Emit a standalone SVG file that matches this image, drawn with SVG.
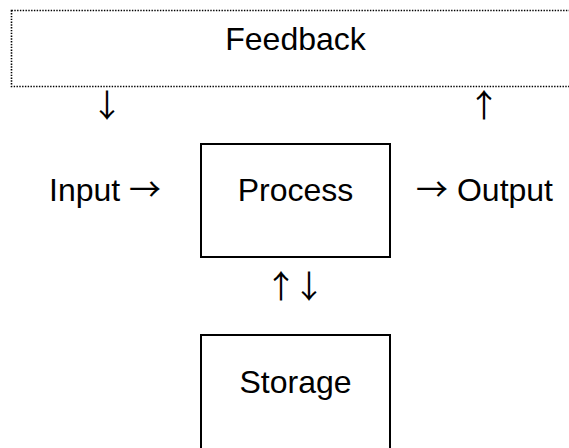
<svg xmlns="http://www.w3.org/2000/svg" width="569" height="448" viewBox="0 0 569 448">
  <style>
    text { font-family: "Liberation Sans", Arial, sans-serif; font-size: 32px; fill: #000; }
    .c { text-anchor: middle; }
    .arw { font-family: "Noto Sans CJK JP", "Liberation Sans", sans-serif; }
    .box { fill: #fff; stroke: #000; stroke-width: 2; }
    .dotted { fill: #fff; stroke: #000; stroke-width: 1.6; stroke-dasharray: 1.4 1.4; }
  </style>
  <rect width="569" height="448" fill="#fff"/>

  <!-- feedback loop band across the top -->
  <g id="feedback">
    <rect class="dotted" x="11.5" y="10.5" width="570" height="76"/>
    <text class="c" x="295.5" y="50">Feedback</text>
  </g>

  <g id="process">
    <rect class="box" x="201" y="144" width="189" height="113"/>
    <text class="c" x="295.5" y="201">Process</text>
  </g>

  <g id="storage">
    <rect class="box" x="201" y="335" width="189" height="130"/>
    <text class="c" x="295.5" y="393">Storage</text>
  </g>

  <g id="input">
    <text x="49" y="201">Input <tspan class="arw">→</tspan></text>
  </g>

  <g id="output">
    <text x="553" y="201" text-anchor="end"><tspan class="arw">→</tspan> Output</text>
  </g>

  <!-- flow arrows set as glyphs -->
  <g id="connectors">
    <text class="c arw" x="107" y="117">↓</text>
    <text class="c arw" x="484" y="117">↑</text>
    <!-- two-way link between process and storage; per-glyph x keeps the pair tight -->
    <text class="arw" x="265 297 293" y="298">↑ ↓</text>
  </g>
</svg>
